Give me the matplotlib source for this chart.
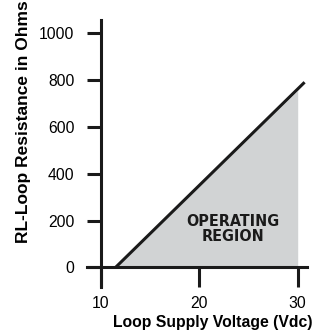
import matplotlib
matplotlib.use("Agg")
import matplotlib.pyplot as plt

# boundary line: minimum supply voltage vs max loop resistance
line_volts = [11.5, 30.7]
line_ohms = [0, 790]

# shaded operating region (cut off at 30 V)
fill_volts = [11.5, 30.0]
fill_ohms = [0, 755]

x_ticks = [10, 20, 30]
y_ticks = [0, 200, 400, 600, 800, 1000]

plt.rcParams["font.family"] = ["Liberation Sans", "DejaVu Sans"]

fig = plt.figure(figsize=(3.17, 3.35), dpi=100)
ax = fig.add_axes([0.271, 0.1385, 0.7054, 0.805])

ax.fill_between(fill_volts, fill_ohms, 0, color="#d1d3d4", linewidth=0, zorder=1)
ax.plot(line_volts, line_ohms, color="#1a1a1a", linewidth=2.2,
        solid_capstyle="butt", zorder=3)

ax.set_xlim(8.5, 31.2)
ax.set_ylim(-90, 1060)

# axis lines cross at (10, 0) and run a bit past the ticks
for side in ["top", "right"]:
    ax.spines[side].set_visible(False)
ax.spines["left"].set_position(("data", 10))
ax.spines["left"].set_bounds(-83, 1055)
ax.spines["bottom"].set_position(("data", 0))
ax.spines["bottom"].set_bounds(8.6, 30.95)
for side in ["left", "bottom"]:
    ax.spines[side].set_linewidth(2.2)
    ax.spines[side].set_color("#1a1a1a")
    ax.spines[side].set_zorder(4)

ax.set_xticks(x_ticks)
ax.set_yticks(y_ticks)
ax.tick_params(axis="x", direction="out", length=14.4, width=2.2,
               color="#1a1a1a", pad=6, labelsize=11.3)
ax.tick_params(axis="y", direction="out", length=10, width=2.2,
               color="#1a1a1a", pad=9, labelsize=11.3)
ax.patch.set_visible(False)

ax.text(23.4, 164, "OPERATING\nREGION", ha="center", va="center",
        fontsize=11.5, fontweight="bold", fontstretch="condensed",
        linespacing=1.05, color="#1a1a1a", family="DejaVu Sans")

fig.text(213 / 317, 1 - 323 / 335, "Loop Supply Voltage (Vdc)",
         ha="center", va="center", fontsize=11.3, fontweight="bold")
fig.text(24 / 317, 1 - 122 / 335, "RL-Loop Resistance in Ohms",
         ha="center", va="center", rotation=90, fontsize=12.5,
         fontweight="bold")

fig.savefig("out.png", dpi=100)
